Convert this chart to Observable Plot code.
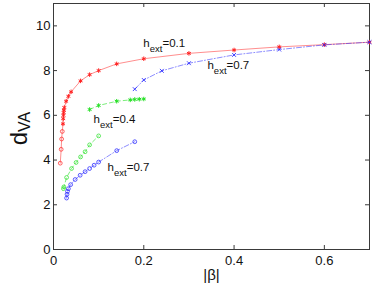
<!DOCTYPE html>
<html><head><meta charset="utf-8">
<script src="https://cdn.jsdelivr.net/npm/d3@7"></script>
<script src="https://cdn.jsdelivr.net/npm/@observablehq/plot@0.6"></script>
<style>body{margin:0;background:#fff}</style>
</head><body><div id="chart"></div>
<script>
// tick values
const xTicks = [0, 0.2, 0.4, 0.6];
const yTicks = [0, 2, 4, 6, 8, 10];

// h_ext = 0.1 (red): lower 'o' branch and upper '*' branch
const redCircX = [0.015, 0.017, 0.018, 0.0195];
const redCircY = [3.86, 4.48, 4.94, 5.28];
const redStarX = [0.021, 0.0215, 0.022, 0.0225, 0.023, 0.024, 0.028, 0.033, 0.039, 0.06, 0.08, 0.1, 0.14, 0.2, 0.3, 0.4, 0.5, 0.6, 0.7];
const redStarY = [5.62, 5.85, 6.0, 6.12, 6.23, 6.35, 6.63, 6.85, 7.05, 7.54, 7.82, 8.0, 8.3, 8.53, 8.77, 8.92, 9.06, 9.16, 9.27];

// h_ext = 0.4 (green)
const greenCircX = [0.022, 0.023, 0.029, 0.04, 0.05, 0.06, 0.07, 0.08, 0.1];
const greenCircY = [2.72, 2.8, 3.22, 3.62, 3.89, 4.14, 4.37, 4.68, 5.08];
const greenStarX = [0.08, 0.1, 0.14, 0.17, 0.18, 0.19, 0.2];
const greenStarY = [6.26, 6.44, 6.63, 6.69, 6.71, 6.72, 6.73];

// h_ext = 0.7 (blue)
const blueCircX = [0.029, 0.030, 0.031, 0.033, 0.038, 0.048, 0.059, 0.07, 0.08, 0.09, 0.1, 0.14, 0.18];
const blueCircY = [2.3, 2.47, 2.6, 2.72, 2.9, 3.13, 3.32, 3.48, 3.62, 3.77, 3.91, 4.42, 4.82];
const blueCrossX = [0.18, 0.2, 0.24, 0.3, 0.4, 0.5, 0.6, 0.7];
const blueCrossY = [7.17, 7.58, 7.99, 8.33, 8.7, 8.94, 9.15, 9.27];

// annotations
const labelTexts = ["h_ext=0.1", "h_ext=0.7", "h_ext=0.4", "h_ext=0.7"];
const labelX = [0.199, 0.341, 0.0888, 0.1198];
const labelY = [9.07, 8.06, 5.64, 3.53];

const RED = "#ff2020", GREEN = "#22e022", BLUE = "#1a1aff";
const pts = (xs, ys, g) => xs.map((x, i) => ({x, y: ys[i], g}));

const redLine = pts(redCircX.concat(redStarX), redCircY.concat(redStarY), "r");
const greenCirc = pts(greenCircX, greenCircY, "gc");
const greenStar = pts(greenStarX, greenStarY, "gs");
const blueCirc = pts(blueCircX, blueCircY, "bc");
const blueCross = pts(blueCrossX, blueCrossY, "bx");
const labels = labelTexts.map((t, i) => ({t, x: labelX[i], y: labelY[i]}));

const AX = "#3a3a3a";
const svg = Plot.plot({
  width: 374, height: 287,
  marginLeft: 53, marginRight: 5, marginTop: 3, marginBottom: 38,
  style: {fontFamily: "'Liberation Sans', Arial, sans-serif", fontSize: "13px", color: "#111", background: "#fff"},
  x: {domain: [0, 0.7]},
  y: {domain: [0, 11]},
  marks: [
    Plot.frame({stroke: AX}),
    Plot.tickX(xTicks, {x: d => d, insetTop: 242, stroke: AX}),
    Plot.tickX(xTicks, {x: d => d, insetBottom: 242, stroke: AX}),
    Plot.tickY(yTicks, {y: d => d, insetRight: 312, stroke: AX}),
    Plot.tickY(yTicks, {y: d => d, insetLeft: 312, stroke: AX}),
    Plot.axisX({ticks: xTicks, tickSize: 0, tickPadding: 6, tickFormat: d => String(d), label: null, fontSize: 13}),
    Plot.axisY({ticks: yTicks, tickSize: 0, tickPadding: 3, tickFormat: d => String(d), label: null, fontSize: 13}),
    // red
    Plot.line(redLine, {x: "x", y: "y", stroke: RED, strokeWidth: 0.6, strokeOpacity: 0.85}),
    Plot.dot(pts(redCircX, redCircY), {x: "x", y: "y", symbol: "circle", r: 1.9, stroke: RED, fill: "none", strokeWidth: 0.7}),
    Plot.dot(pts(redStarX, redStarY), {x: "x", y: "y", symbol: "asterisk", r: 2.1, stroke: RED, strokeWidth: 1}),
    // green
    Plot.line(greenCirc, {x: "x", y: "y", stroke: GREEN, strokeWidth: 0.6, strokeDasharray: "4,3"}),
    Plot.line(greenStar, {x: "x", y: "y", stroke: GREEN, strokeWidth: 0.6, strokeDasharray: "4,3"}),
    Plot.dot(greenCirc, {x: "x", y: "y", symbol: "circle", r: 1.9, stroke: GREEN, fill: "none", strokeWidth: 0.7}),
    Plot.dot(greenStar, {x: "x", y: "y", symbol: "asterisk", r: 2.1, stroke: GREEN, strokeWidth: 1}),
    // blue
    Plot.line(blueCirc, {x: "x", y: "y", stroke: BLUE, strokeWidth: 0.5, strokeDasharray: "5,2,1,2"}),
    Plot.line(blueCross, {x: "x", y: "y", stroke: BLUE, strokeWidth: 0.5, strokeDasharray: "5,2,1,2"}),
    Plot.dot(blueCirc, {x: "x", y: "y", symbol: "circle", r: 1.9, stroke: BLUE, fill: "none", strokeWidth: 0.7}),
    Plot.dot(blueCross, {x: "x", y: "y", symbol: "times", r: 1.9, stroke: BLUE, strokeWidth: 0.8}),
    // annotations
    Plot.text(labels, {x: "x", y: "y", text: "t", textAnchor: "start", lineAnchor: "bottom", fontSize: 11.5, fill: "#111"}),
    Plot.text(["|β|"], {frameAnchor: "bottom", text: d => d, lineAnchor: "bottom", dy: 30, fontSize: 15, fill: "#111"}),
    Plot.text(["d_VA"], {frameAnchor: "left", text: d => d, rotate: -90, lineAnchor: "bottom", textAnchor: "middle", dx: -27, dy: 2, fontSize: 24, fill: "#111"})
  ]
});

// render subscripts as tspans
const NS = "http://www.w3.org/2000/svg";
svg.querySelectorAll("text").forEach(el => {
  const t = el.textContent;
  const m = t.match(/^([^_]*)_([A-Za-z]+)(.*)$/);
  if (!m) return;
  const big = t.startsWith("d_");
  const subSize = big ? 16 : 9.5;
  const shift = big ? 3 : 5;
  el.textContent = "";
  const a = document.createElementNS(NS, "tspan"); a.textContent = m[1];
  const b = document.createElementNS(NS, "tspan"); b.textContent = m[2];
  b.setAttribute("font-size", subSize); b.setAttribute("dy", shift);
  el.appendChild(a); el.appendChild(b);
  if (m[3]) {
    const c = document.createElementNS(NS, "tspan"); c.textContent = m[3];
    c.setAttribute("dy", -shift);
    el.appendChild(c);
  }
});
document.getElementById("chart").appendChild(svg);
</script>
</body></html>
